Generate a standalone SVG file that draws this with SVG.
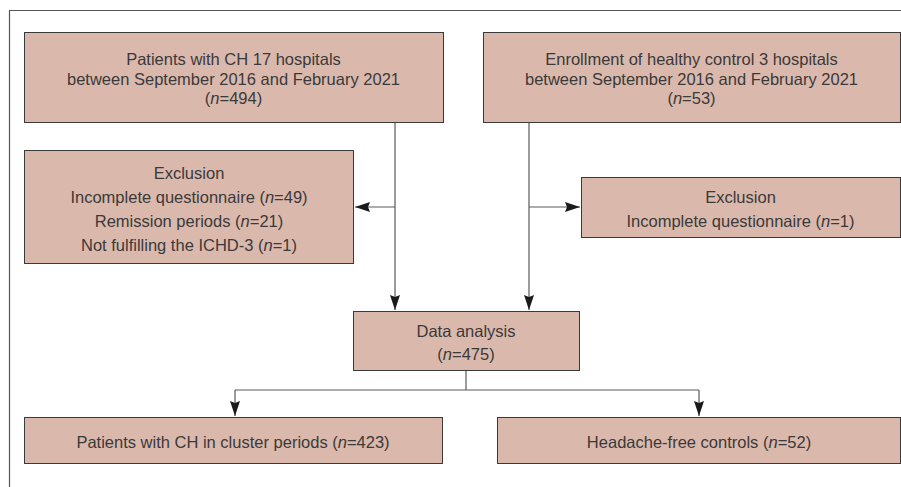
<svg xmlns="http://www.w3.org/2000/svg" width="901" height="487" viewBox="0 0 901 487">
<style>
.box{fill:#dbb8ac;stroke:#3a3a3a;stroke-width:1}
.t{font-family:"Liberation Sans",Arial,sans-serif;font-size:16.5px;fill:#3a3a3a;text-anchor:middle}
.c{fill:none;stroke:#5a5a5a;stroke-width:1.2}
</style>
<defs>
<marker id="ah" markerWidth="15" markerHeight="11" refX="15" refY="5.5" orient="auto" markerUnits="userSpaceOnUse">
<path d="M0,0.5 L15,5.5 L0,10.5 L2,5.5 Z" fill="#1a1a1a"/>
</marker>
</defs>
<rect width="901" height="487" fill="#fff"/>
<path d="M9.5,487 V10.5 H901" fill="none" stroke="#555" stroke-width="1.2"/>
<g id="connectors">
<path class="c" d="M395,122 V310" marker-end="url(#ah)"/>
<path class="c" d="M395,207 H355" marker-end="url(#ah)"/>
<path class="c" d="M529,122 V310" marker-end="url(#ah)"/>
<path class="c" d="M529,207 H580" marker-end="url(#ah)"/>
<path class="c" d="M466,370 V390 M235,390 H699"/>
<path class="c" d="M235,390 V416" marker-end="url(#ah)"/>
<path class="c" d="M699,390 V416" marker-end="url(#ah)"/>
</g>
<g id="patients">
<rect class="box" x="24.5" y="32.5" width="419" height="90"/>
<text class="t" x="233.5" y="65">Patients with CH 17 hospitals</text>
<text class="t" x="233.5" y="85">between September 2016 and February 2021</text>
<text class="t" x="233.5" y="104">(<tspan font-style="italic">n</tspan>=494)</text>
</g>
<g id="controls">
<rect class="box" x="483.5" y="32.5" width="417" height="90"/>
<text class="t" x="691.5" y="65">Enrollment of healthy control 3 hospitals</text>
<text class="t" x="691.5" y="85">between September 2016 and February 2021</text>
<text class="t" x="691.5" y="104">(<tspan font-style="italic">n</tspan>=53)</text>
</g>
<g id="exclusion-left">
<rect class="box" x="24.5" y="150.5" width="329" height="113"/>
<text class="t" x="189" y="179">Exclusion</text>
<text class="t" x="189" y="203">Incomplete questionnaire (<tspan font-style="italic">n</tspan>=49)</text>
<text class="t" x="189" y="227">Remission periods (<tspan font-style="italic">n</tspan>=21)</text>
<text class="t" x="189" y="251">Not fulfilling the ICHD-3 (<tspan font-style="italic">n</tspan>=1)</text>
</g>
<g id="exclusion-right">
<rect class="box" x="581.5" y="177.5" width="319" height="60"/>
<text class="t" x="740.5" y="203">Exclusion</text>
<text class="t" x="740.5" y="227">Incomplete questionnaire (<tspan font-style="italic">n</tspan>=1)</text>
</g>
<g id="data-analysis">
<rect class="box" x="353.5" y="311.5" width="226" height="59"/>
<text class="t" x="466" y="337">Data analysis</text>
<text class="t" x="466" y="360">(<tspan font-style="italic">n</tspan>=475)</text>
</g>
<g id="cluster">
<rect class="box" x="24.5" y="417.5" width="418" height="46"/>
<text class="t" x="233" y="448">Patients with CH in cluster periods (<tspan font-style="italic">n</tspan>=423)</text>
</g>
<g id="headache-free">
<rect class="box" x="497.5" y="417.5" width="403" height="46"/>
<text class="t" x="699" y="448">Headache-free controls (<tspan font-style="italic">n</tspan>=52)</text>
</g>
</svg>
